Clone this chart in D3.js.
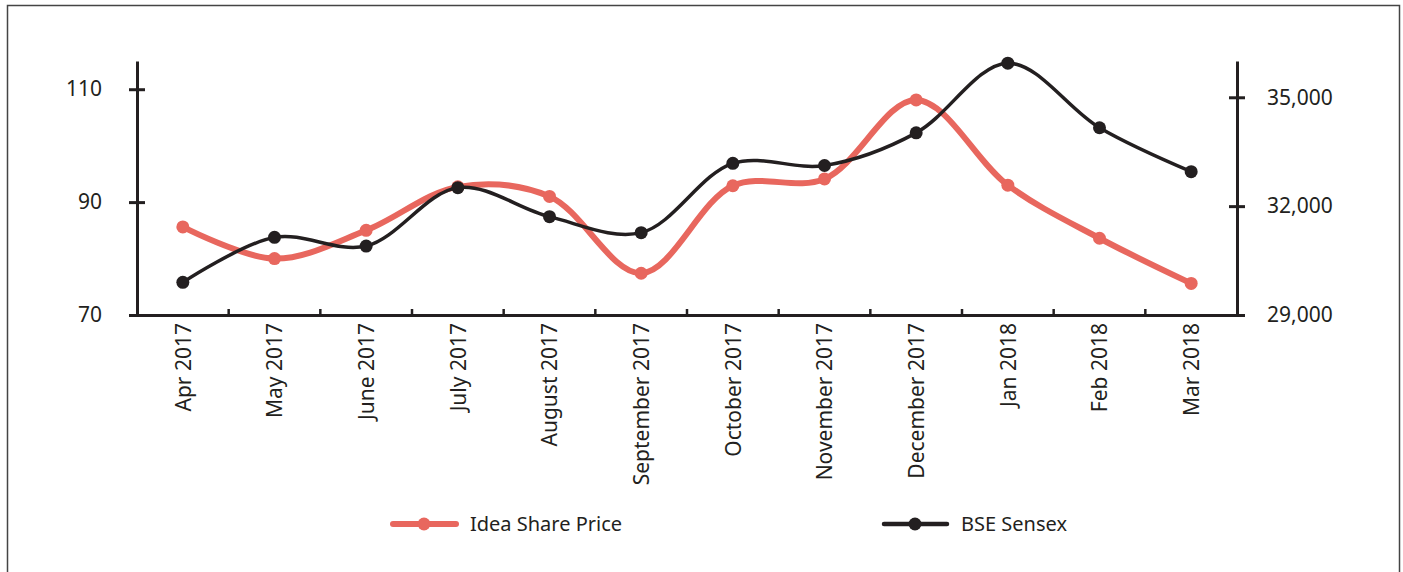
<!DOCTYPE html>
<html>
<head>
<meta charset="utf-8">
<script src="https://d3js.org/d3.v7.min.js"></script>
<style>
  body { margin: 0; background: #fff; }
  svg text { font-family: "Noto Sans", "Open Sans", sans-serif; fill: #231F20; }
</style>
</head>
<body>
<svg id="chart"></svg>
<script>
// months on the x axis
var months = ['Apr 2017', 'May 2017', 'June 2017', 'July 2017', 'August 2017', 'September 2017',
    'October 2017', 'November 2017', 'December 2017', 'Jan 2018', 'Feb 2018', 'Mar 2018'];

// Idea share price (left axis)
var ideaPrice = [85.6, 80.0, 85.0, 92.7, 91.0, 77.4, 92.9, 94.1, 108.1, 93.0, 83.6, 75.6];

// BSE Sensex (right axis)
var sensex = [29900, 31140, 30900, 32510, 31710, 31270, 33180, 33120, 34020, 35940, 34160, 32950];

var leftTicks = [70, 90, 110];
var rightTicks = [29000, 32000, 35000];
var seriesNames = ['Idea Share Price', 'BSE Sensex'];

function main() {
    const width = 1403;
    const height = 572;
    const left = 137, right = 1237, top = 61, bottom = 315;
    const red = '#E8675E';
    const black = '#231F20';

    const svg = d3.select('#chart')
        .attr('width', width)
        .attr('height', height);

    // frame round the chart
    svg.append('rect')
        .attr('x', 7.5).attr('y', 5.5)
        .attr('width', 1392).attr('height', 572)
        .attr('fill', 'none')
        .attr('stroke', '#444')
        .attr('stroke-width', 1.5);

    // scales
    const x = d3.scalePoint().domain(months).range([left, right]).padding(0.5);
    const xBand = d3.scaleBand().domain(months).range([left, right]);
    const yL = d3.scaleLinear().domain([70, 115]).range([bottom, top]);
    const yR = d3.scaleLinear().domain([29000, 36000]).range([bottom, top]);

    // left axis
    const gL = svg.append('g')
        .attr('transform', `translate(${left},0)`)
        .call(d3.axisLeft(yL).tickValues(leftTicks).tickSizeOuter(0).tickSizeInner(8));
    gL.selectAll('.tick line').attr('x1', -8).attr('x2', 8);
    gL.selectAll('line, path').attr('stroke', black).attr('stroke-width', 3);
    gL.selectAll('text').attr('x', -35).style('font-size', '21px').attr('fill', black);

    // right axis
    const gR = svg.append('g')
        .attr('transform', `translate(${right},0)`)
        .call(d3.axisRight(yR).tickValues(rightTicks).tickSizeOuter(0).tickSizeInner(8)
            .tickFormat(d3.format(',')));
    gR.selectAll('.tick line').attr('x1', -8).attr('x2', 8);
    gR.selectAll('line, path').attr('stroke', black).attr('stroke-width', 3);
    gR.selectAll('text').attr('x', 30).style('font-size', '21px').attr('fill', black);

    // bottom axis with labels
    const gX = svg.append('g')
        .attr('transform', `translate(0,${bottom})`)
        .call(d3.axisBottom(x).tickSize(0).tickSizeOuter(0));
    gX.select('.domain').attr('stroke', black).attr('stroke-width', 3);
    gX.selectAll('text')
        .attr('transform', 'rotate(-90)')
        .attr('text-anchor', 'end')
        .attr('x', -8).attr('y', 0).attr('dy', '0.35em')
        .style('font-size', '21px')
        .attr('fill', black);

    // little tick marks between categories
    svg.selectAll('.xsep')
        .data(months.slice(1))
        .join('line')
        .attr('class', 'xsep')
        .attr('x1', d => xBand(d)).attr('x2', d => xBand(d))
        .attr('y1', bottom).attr('y2', bottom - 6)
        .attr('stroke', black)
        .attr('stroke-width', 2.5);

    const curve = d3.curveCatmullRom.alpha(0.5);

    // Idea share price
    const lineL = d3.line().x((d, i) => x(months[i])).y(d => yL(d)).curve(curve);
    svg.append('path')
        .datum(ideaPrice)
        .attr('d', lineL)
        .attr('fill', 'none')
        .attr('stroke', red)
        .attr('stroke-width', 6);
    svg.selectAll('.dotL')
        .data(ideaPrice)
        .join('circle')
        .attr('class', 'dotL')
        .attr('cx', (d, i) => x(months[i]))
        .attr('cy', d => yL(d))
        .attr('r', 6.5)
        .attr('fill', red);

    // BSE Sensex
    const lineR = d3.line().x((d, i) => x(months[i])).y(d => yR(d)).curve(curve);
    svg.append('path')
        .datum(sensex)
        .attr('d', lineR)
        .attr('fill', 'none')
        .attr('stroke', black)
        .attr('stroke-width', 3.5);
    svg.selectAll('.dotR')
        .data(sensex)
        .join('circle')
        .attr('class', 'dotR')
        .attr('cx', (d, i) => x(months[i]))
        .attr('cy', d => yR(d))
        .attr('r', 6.5)
        .attr('fill', black);

    // legend
    const legend = [
        { name: seriesNames[0], color: red, lw: 6, x0: 393 },
        { name: seriesNames[1], color: black, lw: 4.5, x0: 884 }
    ];
    const ly = 524;
    legend.forEach(function(l) {
        svg.append('line')
            .attr('x1', l.x0).attr('x2', l.x0 + 63)
            .attr('y1', ly).attr('y2', ly)
            .attr('stroke', l.color)
            .attr('stroke-width', l.lw)
            .attr('stroke-linecap', 'round');
        svg.append('circle')
            .attr('cx', l.x0 + 31).attr('cy', ly)
            .attr('r', 6.5)
            .attr('fill', l.color);
        svg.append('text')
            .attr('x', l.x0 + 77).attr('y', ly)
            .attr('dy', '0.35em')
            .style('font-size', '20px')
            .text(l.name);
    });
}
main();
</script>
</body>
</html>
